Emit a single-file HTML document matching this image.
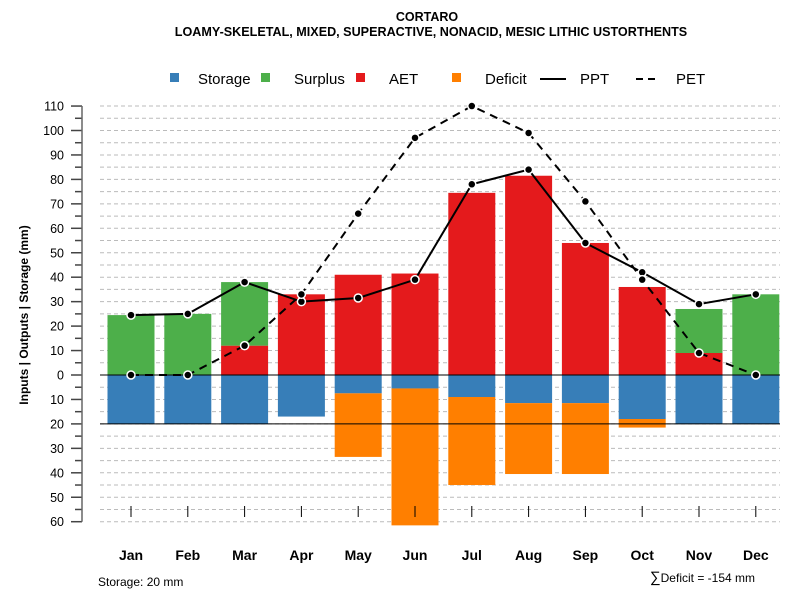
<!DOCTYPE html>
<html><head><meta charset="utf-8">
<style>
body{margin:0;background:#fff;}
svg{display:block;font-family:"Liberation Sans",Arial,sans-serif;}
</style></head>
<body>
<svg id="chart" width="800" height="600" viewBox="0 0 800 600" xmlns="http://www.w3.org/2000/svg">
<text x="427" y="21" text-anchor="middle" font-size="12.5" font-weight="bold">CORTARO</text>
<text x="431" y="36" text-anchor="middle" font-size="12.6" font-weight="bold">LOAMY-SKELETAL, MIXED, SUPERACTIVE, NONACID, MESIC LITHIC USTORTHENTS</text>
<g font-size="15">
<g><rect x="170" y="73" width="9" height="9" fill="#377EB8"/><text x="198" y="84">Storage</text></g>
<g><rect x="261" y="73" width="9" height="9" fill="#4DAF4A"/><text x="294" y="84">Surplus</text></g>
<g><rect x="356" y="73" width="9" height="9" fill="#E41A1C"/><text x="389" y="84">AET</text></g>
<g><rect x="452" y="73" width="9" height="9" fill="#FF7F00"/><text x="485" y="84">Deficit</text></g>
<g><line x1="540" y1="79" x2="566" y2="79" stroke="#000" stroke-width="2"/><text x="580" y="84">PPT</text></g>
<g><line x1="636" y1="79" x2="660" y2="79" stroke="#000" stroke-width="2" stroke-dasharray="7,5"/><text x="676" y="84">PET</text></g>
</g>
<text transform="translate(28,315) rotate(-90)" text-anchor="middle" font-size="12" font-weight="bold">Inputs | Outputs | Storage    (mm)</text>
<g id="grid"></g>
<g id="bars"></g>
<g id="axes"></g>
<g id="lines"></g>
<text x="98" y="586" font-size="12">Storage: 20 mm</text>
<text x="755" y="582" text-anchor="end" font-size="12"><tspan font-size="15">∑</tspan>Deficit = -154 mm</text>
</svg>
<script>
const months=["Jan","Feb","Mar","Apr","May","Jun","Jul","Aug","Sep","Oct","Nov","Dec"];
const storage=[20,20,20,17,7.5,5.5,9,11.5,11.5,18,20,20];
const deficit=[0,0,0,0,26,56,36,29,29,3.5,0,0];
const aet=[0,0,12,33,41,41.5,74.5,81.5,54,36,9,0];
const surplus=[24.5,25,26,0,0,0,0,0,0,0,18,33];
const ppt=[24.5,25,38,30,31.5,39,78,84,54,42,29,33];
const pet=[0,0,12,33,66,97,110,99,71,39,9,0];
const tickVals=[110,100,90,80,70,60,50,40,30,20,10,0,-10,-20,-30,-40,-50,-60];
const NS="http://www.w3.org/2000/svg";
const y=v=>375-v*2.445;
const x=i=>131+i*56.8;
const BW=47;
function mk(tag,attrs,parent){const e=document.createElementNS(NS,tag);for(const k in attrs)e.setAttribute(k,attrs[k]);parent.appendChild(e);return e;}
const grid=document.getElementById('grid'),bars=document.getElementById('bars'),axes=document.getElementById('axes'),lines=document.getElementById('lines');
for(let v=-60;v<=110;v+=5){
 const g=mk('line',{x1:100,x2:780,y1:y(v),y2:y(v),stroke:'#bbb','stroke-dasharray':'4,3'},grid);
 
 
 const t=mk('line',{x1:v%10===0?71:75,x2:82,y1:y(v),y2:y(v),stroke:'#444','stroke-width':1.5},axes);
 
 
}
tickVals.forEach(v=>{
 const t=mk('text',{x:64,y:y(v)+4.5,'text-anchor':'end','font-size':12.5},axes);t.textContent=Math.abs(v);
 
 
});
const ax=mk('line',{x1:82,x2:82,y1:y(110),y2:y(-60),stroke:'#666','stroke-width':1.5},axes);


months.forEach((m,i)=>{
 const cx=x(i),x0=cx-BW/2;
 function bar(v0,v1,col,name){if(v1===v0)return;const r=mk('rect',{x:x0,y:Math.min(y(v0),y(v1)),width:BW,height:Math.abs(y(v1)-y(v0)),fill:col},bars);
  
  }
 bar(0,-storage[i],'#377EB8','storage-bar-'+m.toLowerCase());
 bar(-storage[i],-storage[i]-deficit[i],'#FF7F00','deficit-bar-'+m.toLowerCase());
 bar(0,aet[i],'#E41A1C','aet-bar-'+m.toLowerCase());
 bar(aet[i],aet[i]+surplus[i],'#4DAF4A','surplus-bar-'+m.toLowerCase());
 const tk=mk('line',{x1:cx,x2:cx,y1:506,y2:517,stroke:'#000'},axes);
 
 
 const lb=mk('text',{x:cx,y:560,'text-anchor':'middle','font-size':14,'font-weight':'bold'},axes);lb.textContent=m;
 
 
});
[0,-20].forEach(v=>{const l=mk('line',{x1:100,x2:780,y1:y(v),y2:y(v),stroke:'#000','stroke-width':1},bars);
 
 });
function series(vals,dash,name){
 const p=mk('polyline',{points:vals.map((v,i)=>x(i)+','+y(v)).join(' '),fill:'none',stroke:'#000','stroke-width':2,'stroke-dasharray':dash},lines);
 
 
 vals.forEach((v,i)=>{const c=mk('circle',{cx:x(i),cy:y(v),r:4,fill:'#000',stroke:'#fff','stroke-width':1.5},lines);
  
  });
}
series(ppt,'none','ppt');
series(pet,'8,6','pet');
</script>
</body></html>
